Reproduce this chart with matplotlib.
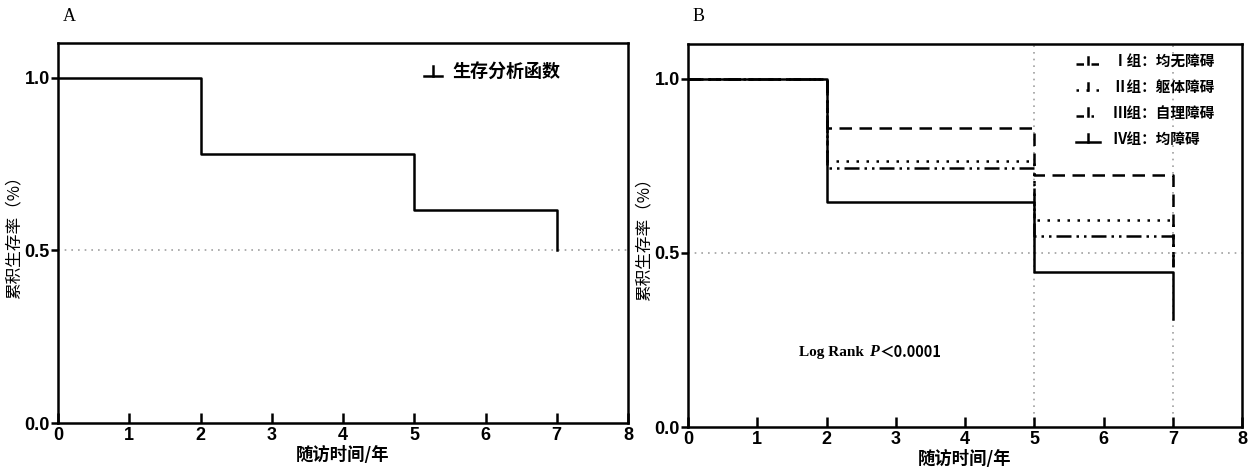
import numpy as np
import matplotlib.pyplot as plt
from matplotlib.lines import Line2D
from matplotlib.legend_handler import HandlerBase

plt.rcParams['font.family'] = ['Noto Sans CJK SC', 'DejaVu Sans']

# data
times = [0, 2, 5, 7]
surv_all = [1.0, 0.78, 0.617, 0.5]

group_names = ['Ⅰ组：均无障碍', 'Ⅱ组：躯体障碍', 'Ⅲ组：自理障碍', 'Ⅳ组：均障碍']
surv_g1 = [1.0, 0.86, 0.725, 0.45]
surv_g2 = [1.0, 0.765, 0.595, 0.47]
surv_g3 = [1.0, 0.745, 0.55, 0.46]
surv_g4 = [1.0, 0.645, 0.444, 0.31]
median_times = [5, 7]

xticks = [0, 1, 2, 3, 4, 5, 6, 7, 8]
yticks = [0.0, 0.5, 1.0]
ytick_labels = ['0.0', '0.5', '1.0']

tick_font = dict(family='Liberation Sans', weight='bold', size=13)


class CensorHandler(HandlerBase):
    # short line with a small tick going up from its middle
    def __init__(self, ls='-'):
        super().__init__()
        self.ls = ls

    def create_artists(self, legend, orig, xd, yd, width, height, fontsize, trans):
        y = yd + height * 0.2
        line = Line2D([xd, xd + width], [y, y], color='k', lw=orig.get_linewidth(),
                      ls=self.ls, transform=trans)
        cx = xd + width * 0.5
        tick = Line2D([cx, cx], [y, y + height * 0.75], color='k',
                      lw=orig.get_linewidth(), transform=trans)
        return [line, tick]


def style_axes(ax):
    ax.set_xlim(0, 8)
    ax.set_ylim(0, 1.1)
    for sp in ax.spines.values():
        sp.set_linewidth(1.8)
    ax.set_xticks(xticks)
    ax.set_xticklabels([str(t) for t in xticks], fontdict=tick_font)
    ax.set_yticks(yticks)
    ax.set_yticklabels(ytick_labels, fontdict=tick_font)
    ax.tick_params(axis='x', direction='in', length=7, width=1.8, pad=3)
    ax.tick_params(axis='y', direction='out', length=5, width=1.8, pad=1)
    ax.set_xlabel('随访时间/年', fontsize=12.5, fontweight='bold', labelpad=1)
    ax.set_ylabel('累积生存率（%）', fontsize=12)


fig = plt.figure(figsize=(12.48, 4.72), dpi=100)

# ---- panel A
axA = fig.add_axes([0.0465, 0.1038, 0.4567, 0.805])
axA.axhline(0.5, color='#a0a0a0', ls=(0, (1, 3)), lw=1.2, zorder=1)
axA.step(times, surv_all, where='post', color='k', lw=1.8, zorder=3)
style_axes(axA)
axA.yaxis.set_label_coords(-0.062, 0.5)
hA = Line2D([0], [0], color='k', lw=1.8)
axA.legend([hA], ['生存分析函数'], loc='upper right', bbox_to_anchor=(0.91, 0.99),
           frameon=False, handlelength=1.0, handletextpad=0.6,
           handler_map={hA: CensorHandler()},
           prop={'family': 'Noto Sans CJK SC', 'weight': 'bold', 'size': 13})
fig.text(0.05, 0.955, 'A', family='Liberation Serif', fontsize=13)

# ---- panel B
axB = fig.add_axes([0.5513, 0.0953, 0.4439, 0.8115])
axB.axhline(0.5, color='#a0a0a0', ls=(0, (1, 3)), lw=1.2, zorder=1)
for mt in median_times:
    axB.axvline(mt, color='#a0a0a0', ls=(0, (1, 3)), lw=1.2, zorder=1)

styles = [(0, (5, 3)), (0, (1, 3)), (0, (6, 2, 1, 2, 1, 2)), '-']
leg_styles = [(0, (3, 3)), (0, (1, 3)), (0, (3, 3, 1, 3)), '-']
series = [surv_g1, surv_g2, surv_g3, surv_g4]
handles = []
hmap = {}
for vals, ls, lls in zip(series, styles, leg_styles):
    axB.step(times, vals, where='post', color='k', lw=1.8, ls=ls, zorder=3)
    h = Line2D([0], [0], color='k', lw=1.8)
    handles.append(h)
    hmap[h] = CensorHandler(lls)
style_axes(axB)
axB.yaxis.set_label_coords(-0.064, 0.5)
axB.legend(handles, group_names, loc='upper right', bbox_to_anchor=(0.975, 1.01),
           frameon=False, handlelength=1.6, handletextpad=0.9, labelspacing=0.68,
           handler_map=hmap,
           prop={'family': 'Noto Sans CJK SC', 'weight': 'bold', 'size': 10.5})
axB.text(1.6, 0.215, 'Log Rank', family='Liberation Serif', weight='bold',
         fontsize=11, ha='left', va='center')
axB.text(2.62, 0.215, 'P', family='Liberation Serif', weight='bold',
         style='italic', fontsize=11.5, ha='left', va='center')
axB.text(2.76, 0.215, '＜0.0001', family=['Noto Sans CJK SC', 'DejaVu Sans'],
         weight='bold', fontsize=10.5, ha='left', va='center')
fig.text(0.555, 0.955, 'B', family='Liberation Serif', fontsize=13)

fig.savefig('out.png', dpi=100)
